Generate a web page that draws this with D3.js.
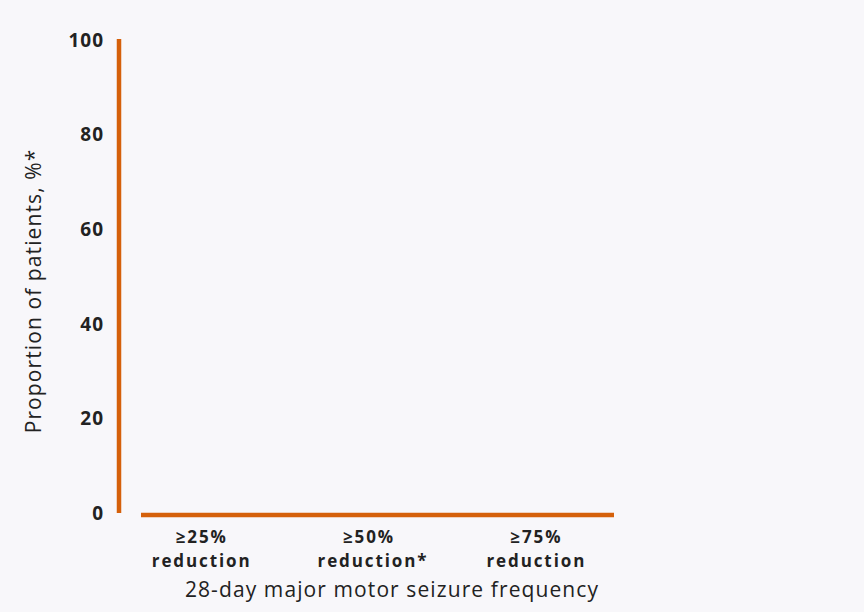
<!DOCTYPE html>
<html>
<head>
<meta charset="utf-8">
<script src="https://cdn.jsdelivr.net/npm/d3@7"></script>
<style>
  body { margin: 0; background: #f8f7fa; }
  svg { display: block; font-family: "Open Sans", sans-serif; }
  .tick-label { font-weight: 700; font-size: 19px; fill: #222; letter-spacing: 1px; }
  .cat-label { font-weight: 700; font-size: 17px; fill: #222; letter-spacing: 1.9px; }
  .axis-title { font-size: 21px; fill: #222; letter-spacing: 1.1px; }
</style>
</head>
<body>
<div class="chart"></div>
<script>
// categories along the x axis (two lines each)
var categories = ["≥25% reduction", "≥50% reduction*", "≥75% reduction"];
var categoryLines = [["≥25%", "reduction"], ["≥50%", "reduction*"], ["≥75%", "reduction"]];
// the chart is empty: no bar values are shown
var values = [];
var yTicks = [0, 20, 40, 60, 80, 100];
var xTitle = "28-day major motor seizure frequency";
var yTitle = "Proportion of patients, %*";

var width = 864, height = 612;
var margin = { top: 40, left: 118, right: 244, bottom: 99 };
var orange = "#d5600a";

var svg = d3.select(".chart").append("svg")
    .attr("width", width)
    .attr("height", height);

var x = d3.scaleBand()
    .domain(categories)
    .range([margin.left, width - margin.right]);
var y = d3.scaleLinear()
    .domain([0, 100])
    .range([height - margin.bottom, margin.top]);

// Y axis line
svg.append("line")
    .attr("x1", margin.left + 1)
    .attr("x2", margin.left + 1)
    .attr("y1", y(100) - 1)
    .attr("y2", y(0))
    .attr("stroke", orange)
    .attr("stroke-width", 4.5);

// X axis baseline (starts a bit right of the y axis)
svg.append("line")
    .attr("x1", x.range()[0] + 23)
    .attr("x2", x.range()[1] - 6)
    .attr("y1", y(0) + 2)
    .attr("y2", y(0) + 2)
    .attr("stroke", orange)
    .attr("stroke-width", 4.5);

// Y tick labels
svg.selectAll(".tick-label")
    .data(yTicks)
  .enter().append("text")
    .attr("class", "tick-label")
    .attr("x", margin.left - 14)
    .attr("y", function(d) { return y(d); })
    .attr("dy", "0.36em")
    .attr("text-anchor", "end")
    .text(function(d) { return d; });

// Category labels, one text per line
svg.selectAll(".cat-group")
    .data(categories)
  .enter().append("g")
    .attr("class", "cat-group")
    .attr("transform", function(d) {
      return "translate(" + (x(d) + x.bandwidth() / 2) + "," + (y(0) + 30) + ")";
    })
  .selectAll("text")
    .data(function(d, i) { return categoryLines[i]; })
  .enter().append("text")
    .attr("class", "cat-label")
    .attr("text-anchor", "middle")
    .attr("x", function(d, i) { return i === 1 && d.slice(-1) === "*" ? 4 : 0; })
    .attr("y", function(d, i) { return i * 23.5; })
    .text(function(d) { return d; });

// Axis titles
svg.append("text")
    .attr("class", "axis-title")
    .attr("x", 392)
    .attr("y", y(0) + 84)
    .attr("text-anchor", "middle")
    .text(xTitle);

svg.append("text")
    .attr("class", "axis-title")
    .attr("transform", "translate(41," + 291 + ") rotate(-90)")
    .attr("text-anchor", "middle")
    .text(yTitle);
</script>
</body>
</html>
